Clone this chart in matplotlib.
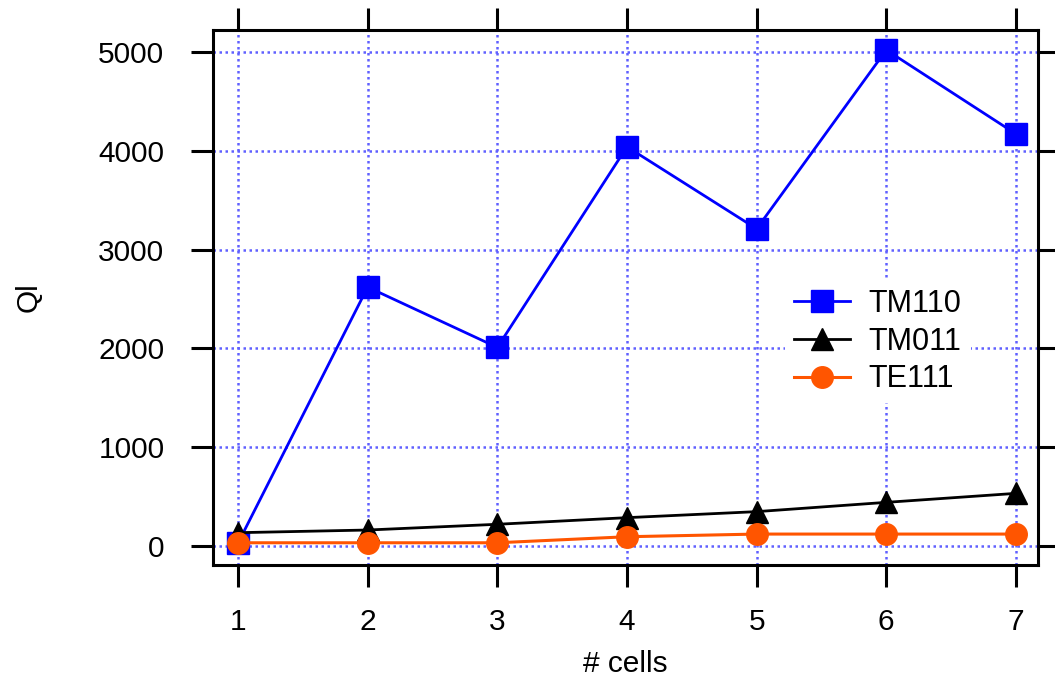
import numpy as np
import matplotlib.pyplot as plt

plt.rcParams['font.family'] = ['Liberation Sans', 'DejaVu Sans']

# datos
cells = [1, 2, 3, 4, 5, 6, 7]
tm110 = [30, 2620, 2010, 4040, 3210, 5020, 4170]
tm011 = [135, 162, 220, 287, 348, 442, 533]
te111 = [33, 33, 33, 94, 121, 121, 121]

fig = plt.figure(figsize=(10.55, 6.9), dpi=100)
ax = fig.add_axes([213 / 1055, 1 - 565 / 690, (1038 - 213) / 1055, (565 - 30) / 690])

ax.plot(cells, tm110, '-s', color='#0000ff', lw=2, markersize=15.5, label='TM110', zorder=3)
ax.plot(cells, tm011, '-^', color='black', lw=2, markersize=15.5, label='TM011', zorder=4)
ax.plot(cells, te111, '-o', color='#ff5500', lw=2.2, markersize=15.5, label='TE111', zorder=5)

ax.set_xlim(0.807, 7.170)
ax.set_ylim(-192, 5222)
ax.set_xticks(cells)
ax.set_yticks([0, 1000, 2000, 3000, 4000, 5000])

ax.grid(True, color='#6060ff', linestyle=(0, (1, 1.4)), lw=1.8)
ax.set_axisbelow(True)

for s in ax.spines.values():
    s.set_linewidth(2.2)
ax.tick_params(direction='out', length=16, width=2.2, labelsize=21.5,
               top=True, right=True)
ax.tick_params(axis='y', pad=19)
ax.tick_params(axis='x', pad=15)

ax.set_xlabel('# cells', fontsize=21.5, labelpad=10)
ax.set_ylabel('Ql', fontsize=21.5, labelpad=40)

leg = ax.legend(loc='upper left', bbox_to_anchor=(0.693, 0.533), frameon=True,
                fontsize=22, handlelength=1.85, borderpad=0.3, borderaxespad=0,
                labelspacing=0.25, handletextpad=0.6, fancybox=False)
leg.get_frame().set_edgecolor('none')
leg.get_frame().set_facecolor('white')
leg.get_frame().set_alpha(1)

fig.savefig('out.png', dpi=100)
